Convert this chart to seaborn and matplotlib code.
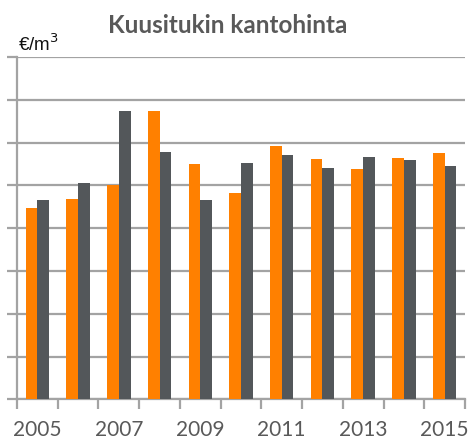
import matplotlib
matplotlib.use("Agg")
import matplotlib.pyplot as plt
import numpy as np
import pandas as pd
import seaborn as sns

# Kantohinnat vuosittain (€/m³), kaksi sarjaa
years = [2005, 2006, 2007, 2008, 2009, 2010, 2011, 2012, 2013, 2014, 2015]
series_a = [44.8, 46.9, 50.2, 67.3, 54.9, 48.3, 59.1, 56.2, 53.9, 56.4, 57.5]
series_b = [46.5, 50.5, 67.4, 57.7, 46.6, 55.2, 57.0, 54.0, 56.6, 56.0, 54.6]
series_names = ["Sarja 1", "Sarja 2"]
title = "Kuusitukin kantohinta"
unit_label = "€/m$^3$"

df = pd.DataFrame({
    "vuosi": [str(y) for y in years] * 2,
    "sarja": [series_names[0]] * len(years) + [series_names[1]] * len(years),
    "hinta": series_a + series_b,
})

sns.set_theme(style="white")
plt.rcParams["font.family"] = ["Lato", "DejaVu Sans"]

fig = plt.figure(figsize=(4.76, 4.42), dpi=100)
ax = fig.add_axes([0.0357, 0.0966, 0.9412, 0.7744])

grid_color = "#A3A3A3"
palette = {series_names[0]: "#FF8000", series_names[1]: "#53575A"}

sns.barplot(data=df, x="vuosi", y="hinta", hue="sarja", palette=palette,
            width=0.575, saturation=1, legend=False, ax=ax, zorder=3,
            edgecolor="none")

ax.set_xlim(-0.5, len(years) - 0.5)
ax.set_ylim(0, 80)

# Vaakaviivoitus ilman arvoja
ax.set_yticks(np.arange(0, 81, 10))
ax.set_yticklabels([])
ax.yaxis.grid(True, color=grid_color, linewidth=1.6, zorder=0)
ax.set_axisbelow(True)
ax.tick_params(axis="y", which="major", direction="out", length=7,
               width=1.6, color=grid_color, left=True)

# Jakoviivat luokkien rajoilla, vuosiluvut joka toiselle luokalle
ax.set_xticks(np.arange(-0.5, len(years), 1.0))
ax.set_xticklabels([])
ax.set_xticks(np.arange(0, len(years), 2), minor=True)
ax.set_xticklabels([str(y) for y in years[::2]], minor=True,
                   fontsize=15, color="#595959")
ax.tick_params(axis="x", which="major", direction="out", length=7,
               width=1.6, color=grid_color, bottom=True)
ax.tick_params(axis="x", which="minor", length=0, pad=15)

ax.set_xlabel("")
ax.set_ylabel("")

for side in ("top", "right"):
    ax.spines[side].set_visible(False)
for side in ("left", "bottom"):
    ax.spines[side].set_color(grid_color)
    ax.spines[side].set_linewidth(1.6)

fig.text(0.478, 0.925, title, ha="center", va="baseline", fontsize=17.5,
         fontweight="bold", color="#595959")
fig.text(0.038, 0.885, unit_label, ha="left", va="baseline", fontsize=13.5,
         color="#111111", family=["Liberation Sans", "DejaVu Sans"])

fig.savefig("out.png", dpi=100)
